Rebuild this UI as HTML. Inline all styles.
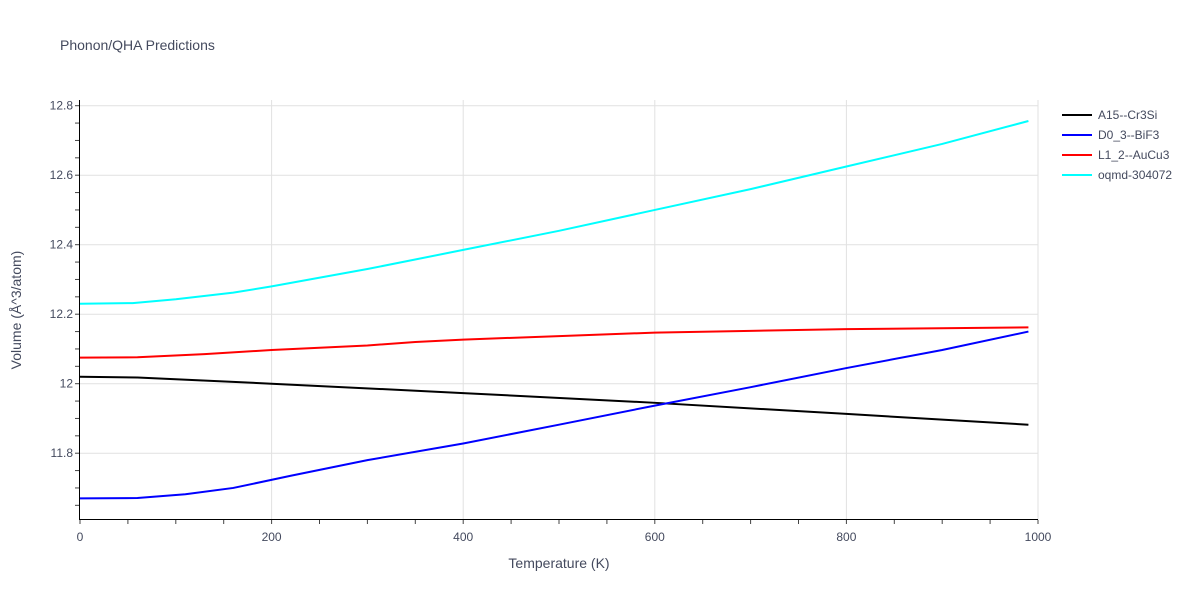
<!DOCTYPE html>
<html><head><meta charset="utf-8"><style>
body{margin:0;background:#fff;font-family:"Liberation Sans",sans-serif}
text{font-family:"Liberation Sans",sans-serif;fill:#444a5e}
</style></head><body>
<svg id="chart" width="1200" height="600">
<text x="60" y="50" font-size="14">Phonon/QHA Predictions</text>
<g id="grid"></g><g id="axes"></g><g id="lines"></g>
<text x="559" y="568" font-size="14" text-anchor="middle">Temperature (K)</text>
<text transform="translate(21,310) rotate(-90)" font-size="14" text-anchor="middle">Volume (Å^3/atom)</text>
<g id="legend"></g>
</svg>
<script>
const seriesNames=["A15--Cr3Si","D0_3--BiF3","L1_2--AuCu3","oqmd-304072"];
const seriesColors=["#000000","#0000ff","#ff0000","#00ffff"];
const tA=[0,60,200,400,600,800,990];
const vA=[12.02,12.018,12.0,11.973,11.945,11.913,11.882];
const tB=[0,60,110,160,220,300,400,500,600,700,800,900,990];
const vB=[11.67,11.671,11.682,11.70,11.735,11.78,11.828,11.882,11.937,11.99,12.045,12.097,12.15];
const tC=[0,60,130,200,300,350,400,500,600,700,800,990];
const vC=[12.075,12.076,12.085,12.097,12.11,12.12,12.127,12.137,12.147,12.152,12.157,12.162];
const tD=[0,55,100,160,200,300,400,500,600,700,800,900,990];
const vD=[12.23,12.232,12.243,12.262,12.28,12.33,12.385,12.44,12.5,12.56,12.625,12.69,12.756];
const xTicks=[0,200,400,600,800,1000];
const yTicks=[11.8,12,12.2,12.4,12.6,12.8];
const yTickLabels=["11.8","12","12.2","12.4","12.6","12.8"];
const X=v=>80+v*0.958;
const Y=v=>383.7-(v-12)*347.5;
const NS="http://www.w3.org/2000/svg";
function mk(p,t,a){const e=document.createElementNS(NS,t);for(const k in a)e.setAttribute(k,a[k]);document.getElementById(p).appendChild(e);return e;}
xTicks.forEach(v=>{if(v>0){const g=mk('grid','line',{x1:X(v),x2:X(v),y1:100,y2:520,stroke:'#e1e1e1'});

}
const t=mk('axes','text',{x:X(v),y:541,'font-size':12,'text-anchor':'middle'});t.textContent=v;

});
yTicks.forEach((v,i)=>{const g=mk('grid','line',{x1:80,x2:1038,y1:Y(v),y2:Y(v),stroke:'#e1e1e1'});


const t=mk('axes','text',{x:73,y:Y(v)+4,'font-size':12,'text-anchor':'end'});t.textContent=yTickLabels[i];

});
for(let v=0;v<=1000;v+=50){mk('axes','line',{x1:X(v),x2:X(v),y1:520,y2:524,stroke:'#444'});}
for(let v=11.65;v<=12.8001;v+=0.05){mk('axes','line',{x1:75,x2:80,y1:Y(v),y2:Y(v),stroke:'#444'});}
const ax=mk('axes','line',{x1:79.5,x2:79.5,y1:100,y2:520,stroke:'#000'});


const bx=mk('axes','line',{x1:79,x2:1038,y1:519.5,y2:519.5,stroke:'#000'});


const data=[[tA,vA],[tB,vB],[tC,vC],[tD,vD]];
data.forEach((d,i)=>{const pts=d[0].map((t,j)=>X(t)+','+Y(d[1][j])).join(' ');
const p=mk('lines','polyline',{points:pts,fill:'none',stroke:seriesColors[i],'stroke-width':2});


const ly=115+i*20;
const l=mk('legend','line',{x1:1062,x2:1092,y1:ly,y2:ly,stroke:seriesColors[i],'stroke-width':2});


const t=mk('legend','text',{x:1098,y:ly+4,'font-size':12});t.textContent=seriesNames[i];

});
</script>
</body></html>
